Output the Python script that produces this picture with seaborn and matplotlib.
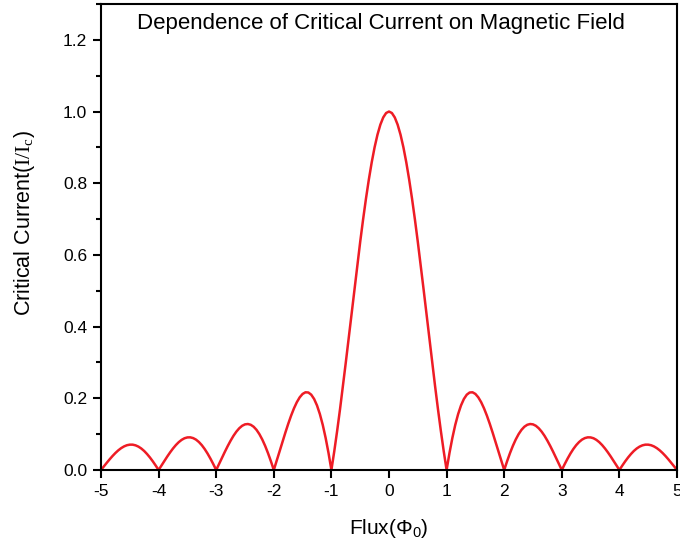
import matplotlib
matplotlib.use("Agg")
import matplotlib.pyplot as plt
from matplotlib.ticker import MultipleLocator
import seaborn as sns
import pandas as pd

# flux values in units of Phi_0, from -5 to 5
flux = [round(-5 + 0.05 * i, 2) for i in range(201)]

# critical current, left half (-5 .. -0.05)
current_left = [
    0.0, 0.0101, 0.0201, 0.0298, 0.0390, 0.0474, 0.0548, 0.0610, 0.0658, 0.0691,
    0.0707, 0.0707, 0.0688, 0.0652, 0.0599, 0.0530, 0.0445, 0.0348, 0.0240, 0.0123,
    0.0, 0.0126, 0.0252, 0.0375, 0.0492, 0.0600, 0.0696, 0.0777, 0.0841, 0.0886,
    0.0909, 0.0911, 0.0890, 0.0847, 0.0780, 0.0693, 0.0585, 0.0459, 0.0317, 0.0163,
    0.0, 0.0169, 0.0339, 0.0507, 0.0668, 0.0818, 0.0954, 0.1070, 0.1164, 0.1233,
    0.1273, 0.1283, 0.1261, 0.1207, 0.1120, 0.1000, 0.0850, 0.0672, 0.0468, 0.0243,
    0.0, 0.0255, 0.0518, 0.0781, 0.1039, 0.1286, 0.1515, 0.1719, 0.1892, 0.2028,
    0.2122, 0.2168, 0.2162, 0.2101, 0.1981, 0.1801, 0.1559, 0.1257, 0.0894, 0.0474,
    0.0, 0.0524, 0.1093, 0.1700, 0.2339, 0.3001, 0.3679, 0.4363, 0.5046, 0.5716,
    0.6366, 0.6987, 0.7568, 0.8103, 0.8584, 0.9003, 0.9355, 0.9634, 0.9836, 0.9959,
]

# centre and right half (0 .. 5)
current_right = [
    1.0,
    0.9959, 0.9836, 0.9634, 0.9355, 0.9003, 0.8584, 0.8103, 0.7568, 0.6987, 0.6366,
    0.5716, 0.5046, 0.4363, 0.3679, 0.3001, 0.2339, 0.1700, 0.1093, 0.0524, 0.0,
    0.0474, 0.0894, 0.1257, 0.1559, 0.1801, 0.1981, 0.2101, 0.2162, 0.2168, 0.2122,
    0.2028, 0.1892, 0.1719, 0.1515, 0.1286, 0.1039, 0.0781, 0.0518, 0.0255, 0.0,
    0.0243, 0.0468, 0.0672, 0.0850, 0.1000, 0.1120, 0.1207, 0.1261, 0.1283, 0.1273,
    0.1233, 0.1164, 0.1070, 0.0954, 0.0818, 0.0668, 0.0507, 0.0339, 0.0169, 0.0,
    0.0163, 0.0317, 0.0459, 0.0585, 0.0693, 0.0780, 0.0847, 0.0890, 0.0911, 0.0909,
    0.0886, 0.0841, 0.0777, 0.0696, 0.0600, 0.0492, 0.0375, 0.0252, 0.0126, 0.0,
    0.0123, 0.0240, 0.0348, 0.0445, 0.0530, 0.0599, 0.0652, 0.0688, 0.0707, 0.0707,
    0.0691, 0.0658, 0.0610, 0.0548, 0.0474, 0.0390, 0.0298, 0.0201, 0.0101, 0.0,
]

x_ticks = [-5, -4, -3, -2, -1, 0, 1, 2, 3, 4, 5]
y_ticks = [0.0, 0.2, 0.4, 0.6, 0.8, 1.0, 1.2]

title = "Dependence of Critical Current on Magnetic Field"


def main():
    sns.set_style("ticks")
    plt.rcParams["font.family"] = ["Liberation Sans", "DejaVu Sans"]
    plt.rcParams["text.color"] = "black"
    plt.rcParams["axes.labelcolor"] = "black"
    plt.rcParams["mathtext.fontset"] = "custom"
    plt.rcParams["mathtext.rm"] = "Liberation Serif"
    plt.rcParams["mathtext.sf"] = "Liberation Sans"

    df = pd.DataFrame({"flux": flux, "current": current_left + current_right})

    fig = plt.figure(figsize=(6.8, 5.47), dpi=100)
    ax = fig.add_axes([101 / 680, 1 - 470 / 547, 576 / 680, 466 / 547])

    sns.lineplot(data=df, x="flux", y="current", ax=ax,
                 color="#ee1c25", linewidth=1.8)

    ax.set_xlim(-5, 5)
    ax.set_ylim(0, 1.3)
    ax.set_xticks(x_ticks)
    ax.set_xticklabels([str(t) for t in x_ticks])
    ax.set_yticks(y_ticks)
    ax.set_yticklabels([f"{t:.1f}" for t in y_ticks])
    ax.yaxis.set_minor_locator(MultipleLocator(0.1))

    for s in ax.spines.values():
        s.set_linewidth(1.5)
        s.set_color("black")
    ax.tick_params(which="major", direction="out", length=6, width=1.5,
                   labelsize=12.5, colors="black", pad=4)
    ax.tick_params(which="minor", direction="out", length=3.5, width=1.5,
                   colors="black")

    ax.set_xlabel(r"Flux(Φ$_\mathsf{0}$)", fontsize=15, labelpad=13)
    ax.set_ylabel(r"Critical Current($\mathrm{I/I_c}$)", fontsize=15.5)
    ax.yaxis.set_label_coords(-0.111, 0.53)

    fig.text(381 / 680, 1 - 24 / 547, title, fontsize=16,
             ha="center", va="center")

    fig.savefig("out.png", dpi=100)


if __name__ == "__main__":
    main()
